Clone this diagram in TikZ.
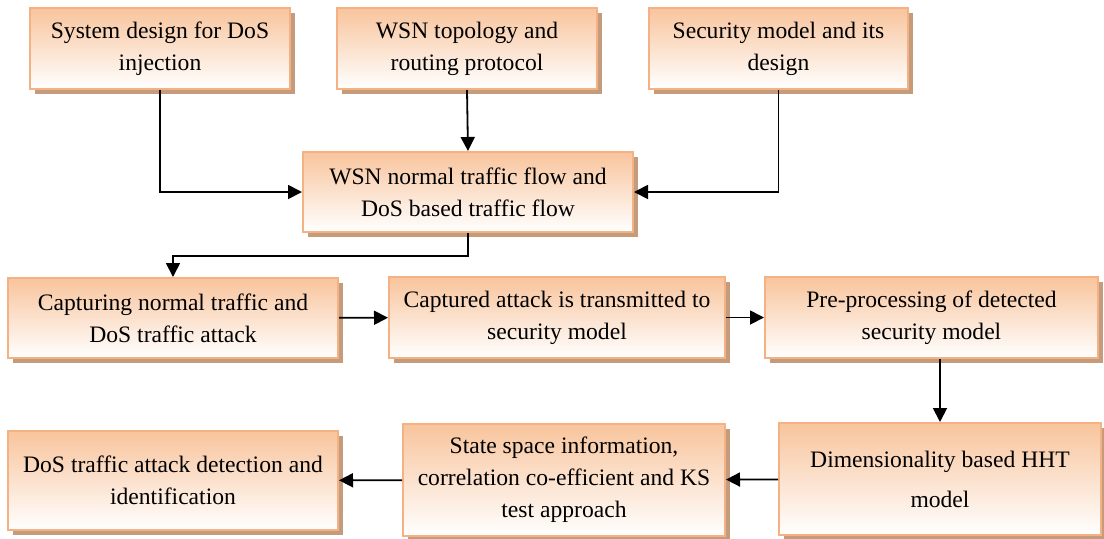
\documentclass[tikz,border=0pt]{standalone}
\usepackage{fontspec}
\setmainfont{Liberation Serif}
\usetikzlibrary{arrows.meta,shadows,positioning}

\definecolor{boxtop}{RGB}{248,196,156}
\definecolor{boxline}{RGB}{244,178,132}
\definecolor{boxshade}{RGB}{196,156,124}

\begin{document}
\begin{tikzpicture}[x=0.5pt,y=-0.5pt,>={Triangle[length=7pt,width=7pt]},
                    line width=0.9pt,
   blk/.style={draw=boxline,line width=1pt,top color=boxtop,bottom color=white,
               drop shadow={shadow xshift=2.5pt,shadow yshift=-2.5pt,
                            fill=boxshade,opacity=1},
               minimum width=#1,align=center,inner sep=0pt,
               font=\fontsize{11.8}{16}\selectfont},
   blk/.default=130pt]

        \useasboundingbox (0,0) rectangle (1104,538);

        % top row
        \node[blk,minimum height=40.5pt] (sys)  at (160,48.5)
             {System design for DoS\\ injection};
        \node[blk,minimum height=40.5pt] (topo) at (467,48.5)
             {WSN topology and\\ routing protocol};
        \node[blk=129.5pt,minimum height=40.5pt] (sec) at (778.5,48.5)
             {Security model and its\\ design};

        \node[blk=165pt,minimum height=40pt] (flow) at (468,192)
             {WSN normal traffic flow and\\ DoS based traffic flow};

        % middle row
        \node[blk=165pt,minimum height=40pt] (cap) at (173,318)
             {Capturing normal traffic and\\ DoS traffic attack};
        \node[blk=168pt,minimum height=40.5pt] (trans) at (557,317.5)
             {Captured attack is transmitted to\\ security model};
        \node[blk=166.5pt,minimum height=40.5pt] (pre) at (931.5,317.5)
             {Pre-processing of detected\\ security model};

        % bottom row
        \node[blk=161pt,minimum height=56pt] (hht) at (940,479)
             {Dimensionality based HHT\\[4pt] model};
        \node[blk=161pt,minimum height=56pt] (ks) at (564,480)
             {State space information,\\ correlation co-efficient and KS\\ test approach};
        \node[blk=165pt,minimum height=49.5pt] (det) at (173,480.5)
             {DoS traffic attack detection and\\ identification};

        \draw[->] (sys.south) |- (flow.west);
        \draw[->] (topo.south) -- (flow.north);
        \draw[->] (sec.south) |- (flow.east);
        \draw[->] (flow.south) -- ++(0,23) -| (cap.north);
        \draw[->] (cap) -- (trans);
        \draw[->] (trans) -- (pre);
        \draw[->] (pre.south -| hht.north) -- (hht.north);
        \draw[->] (hht) -- (ks);
        \draw[->] (ks) -- (det);
\end{tikzpicture}
\end{document}
